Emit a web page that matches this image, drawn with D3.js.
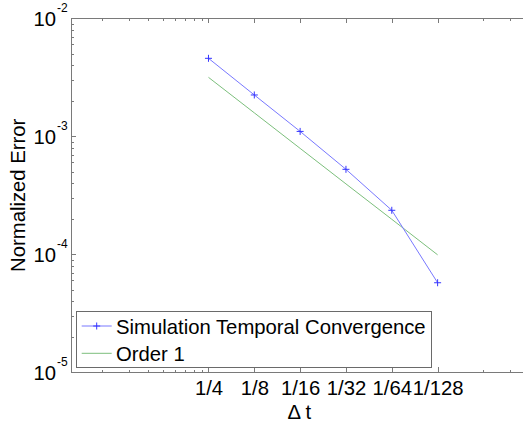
<!DOCTYPE html>
<html>
<head>
<meta charset="utf-8">
<script src="https://cdn.jsdelivr.net/npm/d3@7"></script>
<style>
    body { margin: 0; background: #fff; }
    svg { display: block; font-family: "Liberation Sans", Arial, sans-serif; }
    .axis path, .axis line { stroke: #7a7a7a; shape-rendering: crispEdges; }
    .axis text { font-size: 20.3px; fill: #000; }
</style>
</head>
<body>
<svg id="chart" width="523" height="425"></svg>
<script>

// 1/dt for each run, and the labels shown under them
var invDt = [4, 8, 16, 32, 64, 128],
    xLabels = ['1/4', '1/8', '1/16', '1/32', '1/64', '1/128'],
    xMinor = [0.8, 1.2, 1.6, 2, 2.4, 2.8, 3.2, 3.6, 256, 384];

// normalized error
var simError = [4.58e-3, 2.24e-3, 1.10e-3, 5.25e-4, 2.36e-4, 5.74e-5],
    orderOne = [3.16e-3, 1.58e-3, 7.9e-4, 3.95e-4, 1.98e-4, 9.9e-5];

var yMajor = [1e-2, 1e-3, 1e-4, 1e-5],
    yMinor = [2e-5, 3e-5, 4e-5, 5e-5, 6e-5, 7e-5, 8e-5, 9e-5,
              2e-4, 3e-4, 4e-4, 5e-4, 6e-4, 7e-4, 8e-4, 9e-4,
              2e-3, 3e-3, 4e-3, 5e-3, 6e-3, 7e-3, 8e-3, 9e-3];

var legendNames = ['Simulation Temporal Convergence', 'Order 1'];

drawChart();

/**
 * Draws the convergence plot (log-log, MATLAB style box axes)
 */
function drawChart() {

    var svg = d3.select('#chart'),
        left = 71, right = 527.7, top = 18.3, bottom = 372.3;

    var x = d3.scaleLog().domain([0.5, 500]).range([left, right]),
        y = d3.scaleLog().domain([1e-5, 1e-2]).range([bottom, top]);

    // bottom + top axes, ticks pointing inward
    svg.append('g').attr('class', 'axis')
        .attr('transform', 'translate(0,' + bottom + ')')
        .call(d3.axisBottom(x).tickValues(invDt).tickSizeInner(-5).tickSizeOuter(0).tickPadding(8.5)
            .tickFormat(function (d, i) { return xLabels[i]; }));
    svg.append('g').attr('class', 'axis')
        .attr('transform', 'translate(0,' + bottom + ')')
        .call(d3.axisBottom(x).tickValues(xMinor).tickSize(-2.5).tickFormat(''))
        .select('.domain').remove();

    svg.append('g').attr('class', 'axis')
        .attr('transform', 'translate(0,' + top + ')')
        .call(d3.axisTop(x).tickValues(invDt).tickSizeInner(-5).tickSizeOuter(0).tickFormat(''));
    svg.append('g').attr('class', 'axis')
        .attr('transform', 'translate(0,' + top + ')')
        .call(d3.axisTop(x).tickValues(xMinor).tickSize(-2.5).tickFormat(''))
        .select('.domain').remove();

    // left + right axes
    svg.append('g').attr('class', 'axis')
        .attr('transform', 'translate(' + left + ',0)')
        .call(d3.axisLeft(y).tickValues(yMajor).tickSizeInner(-5).tickSizeOuter(0).tickFormat(''));
    svg.append('g').attr('class', 'axis')
        .attr('transform', 'translate(' + left + ',0)')
        .call(d3.axisLeft(y).tickValues(yMinor).tickSize(-2.5).tickFormat(''))
        .select('.domain').remove();

    svg.append('g').attr('class', 'axis')
        .attr('transform', 'translate(' + right + ',0)')
        .call(d3.axisRight(y).tickValues(yMajor).tickSizeInner(-5).tickSizeOuter(0).tickFormat(''));
    svg.append('g').attr('class', 'axis')
        .attr('transform', 'translate(' + right + ',0)')
        .call(d3.axisRight(y).tickValues(yMinor).tickSize(-2.5).tickFormat(''))
        .select('.domain').remove();

    // y tick labels as 10^k
    var yLab = svg.append('g').selectAll('g').data(yMajor)
        .enter()
        .append('g')
        .attr('transform', function (d) { return 'translate(0,' + y(d) + ')'; });
    yLab.append('text')
        .attr('x', 56)
        .attr('y', 8)
        .attr('text-anchor', 'end')
        .style('font-size', '20.3px')
        .text('10');
    yLab.append('text')
        .attr('x', 57)
        .attr('y', -6)
        .style('font-size', '12px')
        .text(function (d) { return '-' + Math.round(-Math.log10(d)); });

    // axis titles
    svg.append('text')
        .attr('x', (left + right) / 2)
        .attr('y', 419)
        .attr('text-anchor', 'middle')
        .style('font-size', '20.3px')
        .text('\u0394 t');

    svg.append('text')
        .attr('transform', 'translate(25,' + (top + bottom) / 2 + ') rotate(-90)')
        .attr('text-anchor', 'middle')
        .style('font-size', '20.3px')
        .text('Normalized Error');

    // series
    var line = d3.line()
        .x(function (d) { return x(d[0]); })
        .y(function (d) { return y(d[1]); });

    svg.append('path')
        .datum(d3.zip(invDt, orderOne))
        .attr('d', line)
        .attr('fill', 'none')
        .attr('stroke', '#7cbf7c')
        .attr('stroke-width', 1);

    svg.append('path')
        .datum(d3.zip(invDt, simError))
        .attr('d', line)
        .attr('fill', 'none')
        .attr('stroke', '#7878ff')
        .attr('stroke-width', 1);

    svg.selectAll('.marker').data(d3.zip(invDt, simError))
        .enter()
        .append('path')
        .attr('class', 'marker')
        .attr('d', function (d) {
            var cx = x(d[0]), cy = y(d[1]), s = 3.5;
            return 'M' + (cx - s) + ',' + cy + 'H' + (cx + s) + 'M' + cx + ',' + (cy - s) + 'V' + (cy + s);
        })
        .attr('stroke', '#3535ff')
        .attr('stroke-width', 1);

    // legend
    var legend = svg.append('g');
    legend.append('rect')
        .attr('x', 76.5).attr('y', 311)
        .attr('width', 354.5).attr('height', 56.5)
        .attr('fill', '#fff')
        .attr('stroke', '#6a6a6a')
        .attr('stroke-width', 1)
        .attr('shape-rendering', 'crispEdges');

    var colors = ['#7878ff', '#7cbf7c'];
    legendNames.forEach(function (name, i) {
        var ly = 326 + i * 27.3;
        legend.append('line')
            .attr('x1', 81.7).attr('x2', 111.7)
            .attr('y1', ly).attr('y2', ly)
            .attr('stroke', colors[i]);
        if (i === 0) {
            legend.append('path')
                .attr('d', 'M' + 93.2 + ',' + ly + 'H' + 100.2 + 'M' + 96.7 + ',' + (ly - 3.5) + 'V' + (ly + 3.5))
                .attr('stroke', '#3535ff');
        }
        legend.append('text')
            .attr('x', 116)
            .attr('y', ly + 8)
            .style('font-size', '20.3px')
            .text(name);
    });
}
</script>
</body>
</html>
